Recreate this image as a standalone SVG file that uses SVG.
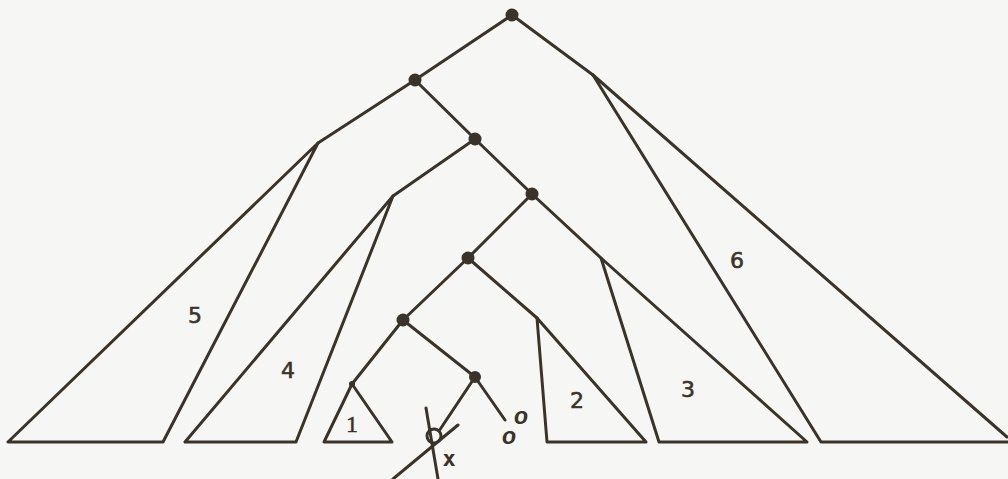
<svg xmlns="http://www.w3.org/2000/svg" width="1008" height="479" viewBox="0 0 1008 479">
<style>
.e{stroke:#3a3329;stroke-width:3;fill:none;stroke-linecap:round;stroke-linejoin:round}
.d{fill:#3a3329}
.t{font-family:"DejaVu Sans",sans-serif;font-size:22px;fill:#3a3329;stroke:#3a3329;stroke-width:0.6;text-anchor:middle}
.s{font-family:"Liberation Serif",serif;font-size:24px;fill:#3a3329;stroke:#3a3329;stroke-width:0.5;text-anchor:middle}
.o{font-family:"Liberation Sans",sans-serif;font-style:italic;font-weight:bold;font-size:23px;fill:#3a3329;text-anchor:middle}
</style>
<rect width="1008" height="479" fill="#f6f6f4"/>
<g id="connectors" class="e">
<line x1="512" y1="15" x2="415" y2="80"/>
<line x1="512" y1="15" x2="593" y2="75"/>
<line x1="415" y1="80" x2="318" y2="143"/>
<line x1="415" y1="80" x2="475" y2="139"/>
<line x1="475" y1="139" x2="393" y2="196"/>
<line x1="475" y1="139" x2="532" y2="194"/>
<line x1="532" y1="194" x2="601" y2="258"/>
<line x1="532" y1="194" x2="468" y2="258"/>
<line x1="468" y1="258" x2="403" y2="320"/>
<line x1="468" y1="258" x2="537" y2="318"/>
<line x1="403" y1="320" x2="352" y2="384"/>
<line x1="403" y1="320" x2="475" y2="377"/>
<line x1="475" y1="377" x2="505" y2="420"/>
<line x1="475" y1="377" x2="439" y2="431"/>
</g>
<g id="tri6">
<polyline class="e" points="1008,442 821,442 593,75 1007,437"/>
<text class="t" x="737" y="268">6</text>
</g>
<g id="tri5">
<polygon class="e" points="318,143 8,442 163,442"/>
<text class="t" x="195" y="323">5</text>
</g>
<g id="tri4">
<polygon class="e" points="393,196 185,442 296,442"/>
<text class="t" x="288" y="378">4</text>
</g>
<g id="tri3">
<polygon class="e" points="601,258 659,442 807,442"/>
<text class="t" x="688" y="397">3</text>
</g>
<g id="tri2">
<polygon class="e" points="537,318 547,442 646,442"/>
<text class="t" x="577" y="408">2</text>
</g>
<g id="tri1">
<polygon class="e" points="352,384 324,442 392,442"/>
<circle class="d" cx="352" cy="384" r="3"/>
<text class="s" x="352" y="432">1</text>
</g>
<g id="n-root"><circle class="d" cx="512" cy="15" r="6.5"/></g>
<g id="n-a"><circle class="d" cx="415" cy="80" r="6.5"/></g>
<g id="n-b"><circle class="d" cx="593" cy="75" r="1.5"/></g>
<g id="n-c"><circle class="d" cx="475" cy="139" r="6.5"/></g>
<g id="n-d"><circle class="d" cx="532" cy="194" r="6.5"/></g>
<g id="n-e"><circle class="d" cx="468" cy="258" r="6.5"/></g>
<g id="n-f"><circle class="d" cx="403" cy="320" r="6.5"/></g>
<g id="n-g"><circle class="d" cx="475" cy="377" r="6"/></g>
<g id="n-x">
<circle class="e" cx="434" cy="436" r="7"/>
<line class="e" x1="426" y1="408" x2="438" y2="479"/>
<line class="e" x1="458" y1="425" x2="393" y2="479"/>
<text font-family="DejaVu Sans Mono, monospace" font-weight="bold" font-size="22" fill="#3a3329" x="449" y="466" text-anchor="middle">x</text>
</g>
<g id="n-o">
<text class="o" x="521" y="424">o</text>
<text class="o" x="509" y="444">o</text>
</g>
</svg>
